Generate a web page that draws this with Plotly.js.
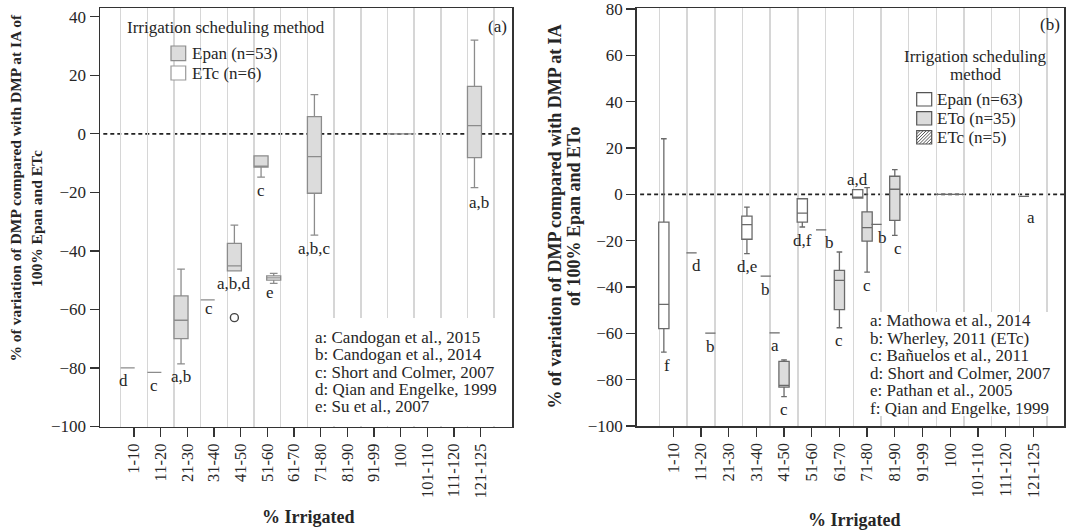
<!DOCTYPE html>
<html>
<head>
<meta charset="utf-8">
<script src="https://cdn.plot.ly/plotly-3.0.1.min.js"></script>
<style>
  html, body { margin: 0; padding: 0; background: #ffffff; }
  #chart { width: 1068px; height: 532px; }
</style>
</head>
<body>
<div id="chart"></div>
<script>
// ---------- data ----------
const categories = ['1-10', '11-20', '21-30', '31-40', '41-50', '51-60', '61-70', '71-80',
                    '81-90', '91-99', '100', '101-110', '111-120', '121-125'];

// Panel (a): Epan-scheduled studies (box statistics per irrigation class)
const aEpanCat    = ['1-10', '11-20', '21-30', '31-40', '41-50', '51-60', '71-80', '100', '121-125'];
const aEpanLow    = [-80.0, -81.5, -78.6, -56.7, -46.8, -14.8, -34.6, 0, -18.4];
const aEpanQ1     = [-80.0, -81.5, -70.0, -56.7, -46.8, -11.4, -20.3, 0,  -8.1];
const aEpanMedian = [-80.0, -81.5, -63.7, -56.7, -45.1, -11.4,  -7.8, 0,   2.8];
const aEpanQ3     = [-80.0, -81.5, -55.4, -56.7, -37.4,  -7.5,   5.9, 0,  16.2];
const aEpanHigh   = [-80.0, -81.5, -46.2, -56.7, -31.2,  -7.5,  13.4, 0,  32.0];
const aEpanRefs   = ['d', 'c', 'a,b', 'c', 'a,b,d', 'c', 'a,b,c', '', 'a,b'];
const aEpanOutlierCat = ['41-50'];
const aEpanOutlierVal = [-62.8];

// Panel (a): ETc-scheduled studies
const aEtcCat    = ['51-60', '100'];
const aEtcLow    = [-51.1, 0];
const aEtcQ1     = [-50.0, 0];
const aEtcMedian = [-49.2, 0];
const aEtcQ3     = [-48.5, 0];
const aEtcHigh   = [-47.7, 0];
const aEtcRefs   = ['e', ''];

const aSources = ['a: Candogan et al., 2015', 'b: Candogan et al., 2014', 'c: Short and Colmer, 2007',
                  'd: Qian and Engelke, 1999', 'e: Su et al., 2007'];

// Panel (b): Epan-scheduled studies
const bEpanCat    = ['1-10', '11-20', '31-40', '41-50', '51-60', '71-80', '100', '121-125'];
const bEpanLow    = [-68.1, -25.3, -25.6, -59.8, -14.1, -1.6, 0, -0.9];
const bEpanQ1     = [-58.0, -25.3, -19.4, -59.8, -12.0, -1.6, 0, -0.9];
const bEpanMedian = [-47.5, -25.3, -13.1, -59.8,  -8.1, -1.6, 0, -0.9];
const bEpanQ3     = [-12.0, -25.3,  -9.4, -59.8,  -1.9,  2.0, 0, -0.9];
const bEpanHigh   = [ 24.0, -25.3,  -5.5, -59.8,  -1.9,  2.0, 0, -0.9];
const bEpanRefs   = ['f', 'd', 'd,e', 'a', 'd,f', 'a,d', '', 'a'];

// Panel (b): ETo-scheduled studies
const bEtoCat    = ['41-50', '61-70', '71-80', '81-90', '100'];
const bEtoLow    = [-87.3, -57.6, -33.6, -17.7, 0];
const bEtoQ1     = [-83.2, -49.8, -20.2, -11.2, 0];
const bEtoMedian = [-82.5, -37.1, -14.4,   2.2, 0];
const bEtoQ3     = [-72.1, -32.8,  -7.6,   7.8, 0];
const bEtoHigh   = [-71.5, -24.9,   2.9,  10.7, 0];
const bEtoRefs   = ['c', 'c', 'c', 'c', ''];

// Panel (b): ETc-scheduled studies
const bEtcCat    = ['11-20', '31-40', '51-60', '71-80', '100'];
const bEtcValue  = [-59.9, -35.3, -15.3, -13.0, 0];
const bEtcRefs   = ['b', 'b', 'b', 'b', ''];

const bSources = ['a: Mathowa et al., 2014', 'b: Wherley, 2011 (ETc)', 'c: Bañuelos et al., 2011',
                  'd: Short and Colmer, 2007', 'e: Pathan et al., 2005', 'f: Qian and Engelke, 1999'];

// ---------- styling helpers ----------
const W = 1068, H = 532;
const px = x => x / W;
const py = y => 1 - y / H;
const SERIF = 'Liberation Serif, Times New Roman, serif';
const TXT = '#262626';

// plot frames in pixels
const FA = { l: 100, r: 512, t: 8, b: 426.5 };
const FB = { l: 636.7, r: 1064, t: 8.3, b: 426 };

const catIndex = c => categories.indexOf(c);
const idx = categories.map((_, i) => i);

// cluster offsets inside each class (fraction of a class slot)
const A_OFF = { epan: -0.237, etc: 0.237 };
const B_OFF = { epan: -0.34, eto: 0, etc: 0.34 };
const A_BOXW = 0.525, B_BOXW = 0.37;

function boxTrace(ax, cats, off, low, q1, med, q3, high, width, fill, lineColor) {
  return {
    type: 'box', xaxis: ax.x, yaxis: ax.y,
    x: cats.map(c => catIndex(c) + off),
    lowerfence: low, q1: q1, median: med, q3: q3, upperfence: high,
    width: width, whiskerwidth: 0.55, boxpoints: false,
    fillcolor: fill, line: { color: lineColor, width: 1.3 },
    hoverinfo: 'skip', showlegend: false
  };
}

const A = { x: 'x', y: 'y' }, B = { x: 'x2', y: 'y2' };

const traces = [
  boxTrace(A, aEpanCat, A_OFF.epan, aEpanLow, aEpanQ1, aEpanMedian, aEpanQ3, aEpanHigh, A_BOXW, '#dcdcdc', '#8c8c8c'),
  boxTrace(A, aEtcCat, A_OFF.etc, aEtcLow, aEtcQ1, aEtcMedian, aEtcQ3, aEtcHigh, A_BOXW, '#ffffff', '#8c8c8c'),
  {
    type: 'scatter', mode: 'markers', xaxis: 'x', yaxis: 'y',
    x: aEpanOutlierCat.map(c => catIndex(c) + A_OFF.epan), y: aEpanOutlierVal,
    marker: { symbol: 'circle-open', size: 8, color: '#444', line: { width: 1.4 } },
    hoverinfo: 'skip', showlegend: false
  },
  boxTrace(B, bEpanCat, B_OFF.epan, bEpanLow, bEpanQ1, bEpanMedian, bEpanQ3, bEpanHigh, B_BOXW, '#ffffff', '#6a6a6a'),
  boxTrace(B, bEtoCat, B_OFF.eto, bEtoLow, bEtoQ1, bEtoMedian, bEtoQ3, bEtoHigh, B_BOXW, '#dcdcdc', '#6a6a6a'),
  boxTrace(B, bEtcCat, B_OFF.etc, bEtcValue, bEtcValue, bEtcValue, bEtcValue, bEtcValue, B_BOXW, '#ffffff', '#6a6a6a')
];

// ---------- axes ----------
function xAxis(domain, range, anchor) {
  return {
    domain: domain, range: range, anchor: anchor,
    tickmode: 'array', tickvals: idx, ticktext: categories, tickangle: -90,
    ticks: 'outside', ticklen: 9, tickwidth: 1.3, tickcolor: '#333',
    tickfont: { family: SERIF, size: 16.5, color: TXT },
    ticklabeloverflow: 'allow',
    showline: true, linecolor: '#333', linewidth: 1.5, mirror: true,
    showgrid: false, zeroline: false,
    minor: { tickmode: 'linear', tick0: -0.5, dtick: 1, showgrid: true,
             gridcolor: '#d6d6d6', gridwidth: 1.5, ticks: '' },
    fixedrange: true
  };
}
function yAxis(domain, range, anchor, tickvals) {
  return {
    domain: domain, range: range, anchor: anchor,
    tickmode: 'array', tickvals: tickvals,
    ticks: 'outside', ticklen: 9, tickwidth: 1.3, tickcolor: '#333',
    tickfont: { family: SERIF, size: 17, color: TXT },
    ticklabeloverflow: 'allow',
    showline: true, linecolor: '#333', linewidth: 1.5, mirror: true,
    showgrid: false, zeroline: false, fixedrange: true
  };
}

// ---------- annotations ----------
const ann = [];
function txt(x, y, text, opts) {
  ann.push(Object.assign({
    xref: 'paper', yref: 'paper', x: px(x), y: py(y), text: text, showarrow: false,
    xanchor: 'left', yanchor: 'middle',
    font: { family: SERIF, size: 17, color: TXT }
  }, opts || {}));
}
// plain white panel (covers the grid lines behind a text block)
function blank(x0, y0, x1, y1) {
  ann.push({
    xref: 'paper', yref: 'paper', x: px((x0 + x1) / 2), y: py((y0 + y1) / 2),
    xanchor: 'center', yanchor: 'middle', text: ' ', showarrow: false,
    width: x1 - x0, height: y1 - y0, bgcolor: '#ffffff', borderpad: 0, borderwidth: 0
  });
}

// study letters below (or above) each box
const labelNudge = {
  'a|1-10|epan': [-4, 0], 'a|121-125|epan': [5, 2], 'a|51-60|etc': [-4, -4], 'a|31-40|epan': [1, -4],
  'b|11-20|epan': [5, 0], 'b|121-125|epan': [7, 8], 'b|51-60|etc': [8, 0], 'b|71-80|etc': [6, 0],
  'b|81-90|eto': [3, 0], 'b|1-10|epan': [3, 0]
};
function addRefs(panel, ax, cats, off, low, high, refs, group) {
  cats.forEach((c, i) => {
    if (!refs[i]) return;
    const above = (panel === 'b' && c === '71-80' && group === 'epan');
    const n = labelNudge[panel + '|' + c + '|' + group] || [0, 0];
    ann.push({
      xref: ax.x, yref: ax.y, x: catIndex(c) + off, y: above ? high[i] : low[i],
      text: refs[i], showarrow: false, xanchor: 'center',
      yanchor: 'middle', xshift: n[0], yshift: above ? 10 : -(13 + n[1]),
      font: { family: SERIF, size: 17, color: TXT }
    });
  });
}
addRefs('a', A, aEpanCat, A_OFF.epan, aEpanLow, aEpanHigh, aEpanRefs, 'epan');
addRefs('a', A, aEtcCat, A_OFF.etc, aEtcLow, aEtcHigh, aEtcRefs, 'etc');
addRefs('b', B, bEpanCat, B_OFF.epan, bEpanLow, bEpanHigh, bEpanRefs, 'epan');
addRefs('b', B, bEtoCat, B_OFF.eto, bEtoLow, bEtoHigh, bEtoRefs, 'eto');
addRefs('b', B, bEtcCat, B_OFF.etc, bEtcValue, bEtcValue, bEtcRefs, 'etc');

// panel (a) texts
txt(125, 28, 'Irrigation scheduling method');
txt(190, 53.5, 'Epan (n=53)');
txt(190, 73, 'ETc (n=6)');
txt(497, 27, '(a)', { xanchor: 'center' });
blank(314, 318, 511, 425.5);
aSources.forEach((s, i) => txt(313, 337.7 + i * 17.25, s));

// panel (b) texts
txt(975.5, 57, 'Irrigation scheduling', { xanchor: 'center' });
txt(975.5, 75, 'method', { xanchor: 'center' });
txt(935, 99.5, 'Epan (n=63)');
txt(935, 118.5, 'ETo (n=35)');
txt(935, 137.5, 'ETc (n=5)');
txt(1050, 25, '(b)', { xanchor: 'center' });
blank(862, 312, 1063, 416);
bSources.forEach((s, i) => txt(868, 320.7 + i * 17.5, s));

// axis titles
const boldTitle = (size) => ({ family: SERIF, size: size, color: TXT, weight: 'bold' });
txt(15, 187.5, '% of variation of DMP compared with DMP at IA of', { xanchor: 'center', textangle: -90, font: boldTitle(15.5) });
txt(37, 219, '100% Epan and ETc', { xanchor: 'center', textangle: -90, font: boldTitle(15.5) });
txt(555, 216.5, '% of variation of DMP compared with DMP at IA', { xanchor: 'center', textangle: -90, font: boldTitle(18) });
txt(574, 217, 'of 100% Epan and ETo', { xanchor: 'center', textangle: -90, font: boldTitle(18) });
txt(308, 517, '% Irrigated', { xanchor: 'center', font: boldTitle(18) });
txt(854, 520, '% Irrigated', { xanchor: 'center', font: boldTitle(18) });

// ---------- shapes ----------
const shapes = [];
// dashed reference line at zero (under the boxes)
[['x', 'y'], ['x2', 'y2']].forEach(([xa, ya]) => shapes.push({
  type: 'line', xref: xa + ' domain', yref: ya, x0: 0.008, x1: 1, y0: 0, y1: 0,
  line: { color: '#222', width: 1.6, dash: '4px,3px' }, layer: 'below'
}));

function swatch(x0, y0, x1, y1, fill, stroke) {
  shapes.push({ type: 'rect', xref: 'paper', yref: 'paper', x0: px(x0), x1: px(x1), y0: py(y1), y1: py(y0),
    fillcolor: fill, line: { color: stroke, width: 1.2 }, layer: 'above' });
}
function hatch(x0, y0, x1, y1, step, color) {
  let d = '';
  for (let c = x0 + y0 + step; c < x1 + y1; c += step) {
    const xs = Math.max(x0, c - y1), xe = Math.min(x1, c - y0);
    if (xs < xe) d += `M${px(xs)},${py(c - xs)} L${px(xe)},${py(c - xe)} `;
  }
  shapes.push({ type: 'path', xref: 'paper', yref: 'paper', path: d,
    line: { color: color, width: 1 }, layer: 'above' });
}
swatch(171, 46, 185.7, 60.7, '#dcdcdc', '#8c8c8c');
swatch(171, 66, 185.7, 80, '#ffffff', '#9a9a9a');
swatch(916.7, 92.7, 931.7, 106, '#ffffff', '#555');
swatch(916.7, 111.7, 931.7, 125, '#dcdcdc', '#555');
swatch(916.7, 130.7, 931.7, 144, '#ffffff', '#555');
hatch(916.7, 130.7, 931.7, 144, 3.2, '#555');

const layout = {
  width: W, height: H,
  margin: { l: 0, r: 0, t: 0, b: 0 },
  paper_bgcolor: '#ffffff', plot_bgcolor: '#ffffff',
  showlegend: false, boxmode: 'overlay',
  xaxis: xAxis([px(FA.l), px(FA.r)], [-1.275, 14.17], 'y'),
  yaxis: yAxis([py(FA.b), py(FA.t)], [-100, 43], 'x', [-100, -80, -60, -40, -20, 0, 20, 40]),
  xaxis2: xAxis([px(FB.l), px(FB.r)], [-1.32, 14.11], 'y2'),
  yaxis2: yAxis([py(FB.b), py(FB.t)], [-100, 80.3], 'x2', [-100, -80, -60, -40, -20, 0, 20, 40, 60, 80]),
  annotations: ann,
  shapes: shapes
};

Plotly.newPlot('chart', traces, layout, { displayModeBar: false, staticPlot: true });
</script>
</body>
</html>
